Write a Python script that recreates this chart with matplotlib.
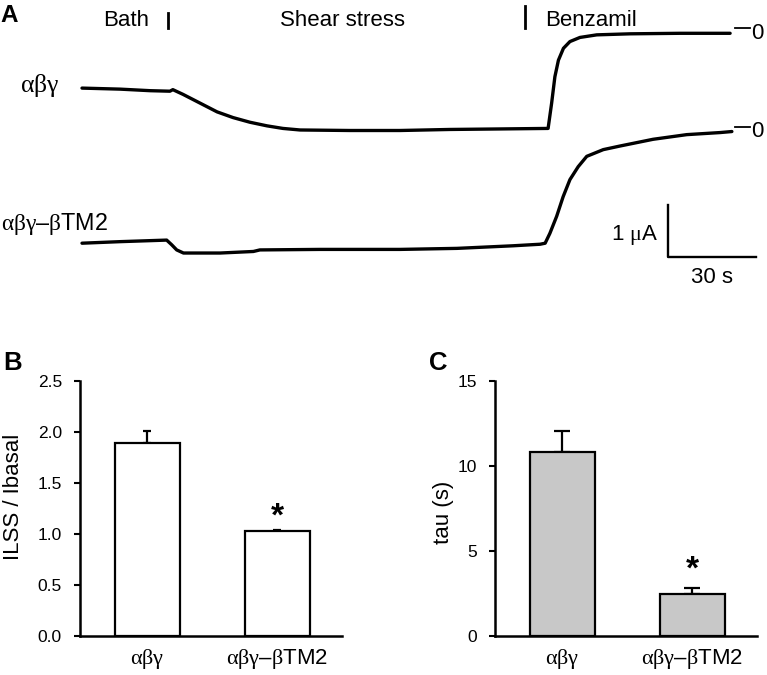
import matplotlib
matplotlib.use("Agg")
import matplotlib.pyplot as plt
import matplotlib.transforms as mtransforms

plt.rcParams['font.family'] = ['Liberation Sans', 'DejaVu Sans']
plt.rcParams['mathtext.fontset'] = 'custom'
plt.rcParams['mathtext.it'] = 'Liberation Serif'
plt.rcParams['mathtext.rm'] = 'Liberation Serif'
plt.rcParams['mathtext.bf'] = 'Liberation Serif:bold'

# ---------------- data ----------------
# Panel A: current traces (time in s, current in uA relative to benzamil zero)
trace1_t = [0, 12.9, 23.1, 29.8, 30.8, 34.2, 40.0, 45.8, 51.2, 56.9, 62.7, 68.1, 73.9,
            90.8, 107.8, 124.7, 141.7, 158.0, 159.2, 160.3, 161.5, 163.2, 165.4, 168.8,
            174.5, 185.8, 202.7, 219.7]
trace1_i = [-1.06, -1.08, -1.11, -1.12, -1.09, -1.18, -1.35, -1.52, -1.63, -1.72, -1.79,
            -1.84, -1.87, -1.88, -1.88, -1.86, -1.85, -1.84, -1.35, -0.84, -0.52, -0.29,
            -0.16, -0.08, -0.03, -0.01, 0.0, 0.0]
trace2_t = [0, 12.9, 28.7, 30.4, 32.1, 34.4, 46.8, 58.1, 60.3, 80.7, 107.8, 127.1, 146.1,
            155.3, 157.0, 158.6, 160.9, 163.1, 165.4, 168.2, 171.1, 176.7, 182.4, 193.6,
            205.0, 216.3, 220.3]
trace2_i = [-2.16, -2.13, -2.10, -2.19, -2.29, -2.35, -2.35, -2.32, -2.29, -2.28, -2.28,
            -2.26, -2.21, -2.18, -2.16, -1.97, -1.64, -1.26, -0.93, -0.68, -0.48, -0.35,
            -0.28, -0.15, -0.06, -0.02, 0.0]
trace_names = [r"$\alpha\beta\gamma$", r"$\alpha\beta\gamma$–$\beta$TM2"]
event_times = [29.2, 150.2]
event_names = ["Bath", "Shear stress", "Benzamil"]
scale_current = 1.0   # uA
scale_time = 30.0     # s

# Panels B and C
groups = [r"$\alpha\beta\gamma$", r"$\alpha\beta\gamma$–$\beta$TM2"]
ratio_mean = [1.89, 1.03]
ratio_sem = [0.12, 0.01]
tau_mean = [10.8, 2.45]
tau_sem = [1.25, 0.40]

# ---------------- layout helpers ----------------
W, H = 767, 675
fig = plt.figure(figsize=(W / 100, H / 100), dpi=100)

def fx(x):
    return x / W

def fy(y):
    return 1 - y / H

TXT = 16

# ---------------- Panel A ----------------
px_per_s = 2.95
px_per_uA = 51.7
x0_px, zero1_px = 82, 33.3
trace2_offset = -1.90
axA = fig.add_axes([0, fy(300), 1, 300 / H])
axA.set_xlim(-x0_px / px_per_s, (W - x0_px) / px_per_s)
axA.set_ylim((zero1_px - 300) / px_per_uA, zero1_px / px_per_uA)
axA.axis('off')
axA.plot(trace1_t, trace1_i, color='black', lw=2.4, solid_joinstyle='round', solid_capstyle='round')
axA.plot(trace2_t, [v + trace2_offset for v in trace2_i], color='black', lw=2.4,
         solid_joinstyle='round', solid_capstyle='round')

# event markers
trA = mtransforms.blended_transform_factory(axA.transData, axA.transAxes)
axA.plot([event_times[0]] * 2, [1 - 13 / 300, 1 - 28 / 300], transform=trA, color='k', lw=2.0)
axA.plot([event_times[1]] * 2, [1 - 6 / 300, 1 - 28 / 300], transform=trA, color='k', lw=2.0)
fig.text(fx(149.5), fy(25.5), event_names[0], ha='right', va='baseline', fontsize=TXT)
fig.text(fx(343), fy(25.5), event_names[1], ha='center', va='baseline', fontsize=TXT)
fig.text(fx(545), fy(25.5), event_names[2], ha='left', va='baseline', fontsize=TXT)

# trace labels
fig.text(fx(20), fy(92), trace_names[0], ha='left', va='baseline', fontsize=18.5)
fig.text(fx(1), fy(230), trace_names[1], ha='left', va='baseline', fontsize=16.8)

# zero markers
t_end = max(trace1_t[-1], trace2_t[-1])
for zero in [0.0, trace2_offset]:
    axA.plot([t_end + 1.1, t_end + 6.1], [zero + 0.095, zero + 0.095], color='k', lw=1.3)
    axA.text(t_end + 6.6, zero, "0", ha='left', va='center', fontsize=TXT)

# scale bar
sb_t, sb_i = 198.6, -4.327
axA.plot([sb_t, sb_t, sb_t + scale_time], [sb_i + scale_current, sb_i, sb_i], color='k', lw=1.7)
axA.text(sb_t - 3.3, sb_i + 0.33, r"1 $\mu$A", ha='right', va='baseline', fontsize=TXT)
axA.text(sb_t + scale_time / 2, sb_i - 0.5, "30 s", ha='center', va='baseline', fontsize=TXT)

fig.text(fx(0), fy(22), "A", ha='left', va='baseline', fontsize=17.5, fontweight='bold')

# ---------------- Panels B and C ----------------
def bar_panel(left_px, mean, sem, ymax, yticks, fmt, color, capsize, ylabel, star_y,
              label_x, label_y):
    ax = fig.add_axes([fx(left_px), fy(636), 262 / W, 255 / H])
    xs = list(range(len(groups)))
    ax.bar(xs, mean, width=0.5, color=color, edgecolor='black', linewidth=1.6, zorder=2)
    ax.errorbar(xs, mean, yerr=[[0] * len(sem), sem], fmt='none', ecolor='black',
                elinewidth=1.6, capsize=capsize, capthick=1.6, zorder=1)
    ax.set_xlim(-0.52, 1.5)
    ax.set_ylim(0, ymax)
    ax.set_yticks(yticks)
    ax.set_yticklabels([fmt.format(v) for v in yticks])
    ax.set_xticks(xs)
    ax.set_xticklabels(groups)
    for s in ['top', 'right']:
        ax.spines[s].set_visible(False)
    for s in ['left', 'bottom']:
        ax.spines[s].set_linewidth(1.8)
    ax.tick_params(axis='y', length=4, width=1.5, pad=9, labelsize=12.5)
    ax.tick_params(axis='x', length=0, pad=8, labelsize=16)
    ax.set_ylabel(ylabel, fontsize=TXT)
    ax.yaxis.set_label_coords(label_x, label_y)
    ax.text(1, star_y, "*", ha='center', va='center', fontsize=24, fontweight='bold')
    return ax

axB = bar_panel(80, ratio_mean, ratio_sem, 2.5, [0.0, 0.5, 1.0, 1.5, 2.0, 2.5], "{:.1f}",
                'white', 3, "ILSS / Ibasal", 1.17, (24 - 80) / 262, 0.545)
axC = bar_panel(495, tau_mean, tau_sem, 15, [0, 5, 10, 15], "{:.0f}",
                '#c8c8c8', 6, "tau (s)", 3.9, (454 - 495) / 262, 0.484)

fig.text(fx(3), fy(370), "B", ha='left', va='baseline', fontsize=18.5, fontweight='bold')
fig.text(fx(429), fy(370), "C", ha='left', va='baseline', fontsize=18.5, fontweight='bold')

fig.savefig("out.png", dpi=100)
